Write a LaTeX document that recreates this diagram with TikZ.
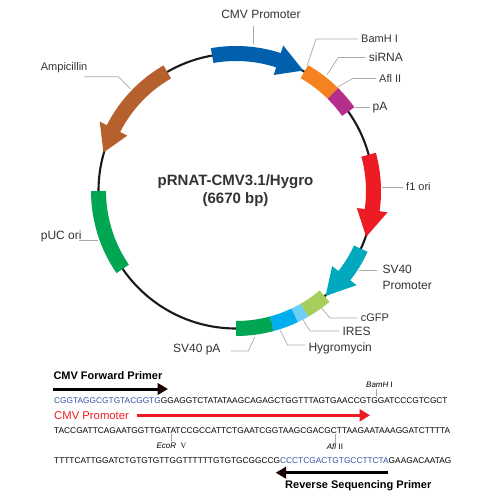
\documentclass[tikz,border=0pt]{standalone}
\usepackage{fontspec}
\setmainfont{Liberation Sans}
\newfontfamily\serifv{Liberation Serif}
\usetikzlibrary{arrows.meta}
\definecolor{txt}{HTML}{333333}
\definecolor{ring}{HTML}{1A1A1A}
\definecolor{leadc}{HTML}{AAAAAA}
\definecolor{cmvblue}{HTML}{0060AE}
\definecolor{orng}{HTML}{F58220}
\definecolor{magen}{HTML}{B52E8C}
\definecolor{redd}{HTML}{ED1C24}
\definecolor{teal2}{HTML}{00A9BD}
\definecolor{lgreen}{HTML}{A6CE5B}
\definecolor{lblue}{HTML}{6DCFF6}
\definecolor{hblue}{HTML}{00AEEF}
\definecolor{grn}{HTML}{00A651}
\definecolor{brwn}{HTML}{B5602D}
\definecolor{seqblue}{HTML}{3953A4}
\newcommand{\fs}[1]{\fontsize{#1}{#1}\selectfont}
% band from angle #1 to #2
\newcommand{\bandseg}[3]{\fill[#3] (#1:130pt) arc[start angle=#1,end angle=#2,radius=130pt] -- (#2:145pt) arc[start angle=#2,end angle=#1,radius=145pt] -- cycle;}
% arrow band from #1 to shaft end #2, tip at #3
\newcommand{\arrowseg}[4]{\fill[#4] (#1:130pt) arc[start angle=#1,end angle=#2,radius=130pt] -- (#2:122pt) -- (#3:138pt) -- (#2:153pt) -- (#2:145pt) arc[start angle=#2,end angle=#1,radius=145pt] -- cycle;}
\tikzset{
  lab/.style={anchor=west,inner sep=3pt,text=txt},
  leader/.style={draw=leadc,line width=0.7pt},
  seqline/.style={anchor=west,inner sep=0pt,text=black,font=\fs{8.33}},
  site/.style={inner sep=1pt,text=black,font=\fs{8}},
  primer/.style={anchor=west,inner sep=0pt,text=black,font=\bfseries\fs{11}},
  blackarrow/.style={draw=black,line width=3pt,-{Triangle[length=10.5pt,width=11.5pt,color=black!90!red]}},
  redarrow/.style={draw=redd,line width=2.6pt,-{Triangle[length=10.5pt,width=12pt]}}
}
\begin{document}
\begin{tikzpicture}[x=1pt,y=-1pt]
\useasboundingbox (0,0) rectangle (500,500);
\fill[white] (0,0) rectangle (500,500);

\begin{scope}[shift={(236,191)}]
\draw[ring,line width=2.1pt] (0,0) circle[radius=137.5pt];
\arrowseg{100}{72}{60.8}{cmvblue}
\bandseg{60.2}{45.2}{orng}
\bandseg{45.2}{35.3}{magen}
\arrowseg{15.3}{-8}{-19.4}{redd}
\arrowseg{-24.8}{-38}{-49.5}{teal2}
\bandseg{-49.9}{-60.2}{lgreen}
\bandseg{-60.2}{-64.8}{lblue}
\bandseg{-64.8}{-75}{hblue}
\bandseg{-75}{-90}{grn}
\bandseg{180}{214.5}{grn}
\arrowseg{120}{153}{163.8}{brwn}
\end{scope}

\node[font=\bfseries\fs{15},text=txt,align=center,inner sep=0pt] (title) at (235.5,191) {pRNAT-CMV3.1/Hygro\\[3pt](6670 bp)};

% map labels
\node[text=txt,inner sep=2pt,font=\fs{12}] (lCMV) at (261,14) {CMV Promoter};
\node[lab,font=\fs{11}] (lBam) at (358,39) {BamH I};
\node[lab,font=\fs{12}] (lsi) at (365.7,57.5) {siRNA};
\node[lab,font=\fs{11}] (lAfl) at (376,78.5) {Afl II};
\node[lab,font=\fs{12}] (lpA) at (369.5,107.5) {pA};
\node[lab,font=\fs{11}] (lf1) at (403,187) {f1 ori};
\node[lab,font=\fs{12},align=left] (lSV) at (379.3,277.2) {SV40\\[3.5pt]Promoter};
\node[lab,font=\fs{11}] (lcG) at (357.7,318) {cGFP};
\node[lab,font=\fs{12}] (lIR) at (339.3,331) {IRES};
\node[lab,font=\fs{12}] (lHy) at (305.3,348) {Hygromycin};
\node[anchor=east,inner sep=3pt,text=txt,font=\fs{12}] (lpa2) at (223.7,350) {SV40 pA};
\node[anchor=west,inner sep=0pt,text=txt,font=\fs{11}] (lAm) at (40.7,68) {Ampicillin};
\node[anchor=west,inner sep=0pt,text=txt,font=\fs{12}] (lpU) at (40.7,236) {pUC ori};

\coordinate (cCMVa) at (253.5,26);
\coordinate (cCMVb) at (253.5,44);
\coordinate (eBam) at (316,39);    \coordinate (tBam) at (307.3,65);
\coordinate (eSi) at (338.3,57.5); \coordinate (tSi) at (326.7,75);
\coordinate (eAf) at (352.7,78.5); \coordinate (tAf) at (338.3,86.7);
\coordinate (tPa) at (355,107.5);
\coordinate (tF1) at (381.7,187);
\coordinate (aSV) at (376.7,270);  \coordinate (tSV) at (359,270);
\coordinate (eCg) at (330,318);    \coordinate (tCg) at (321.7,308.3);
\coordinate (eIr) at (310,331);    \coordinate (tIr) at (302.7,319.3);
\coordinate (aHy) at (305,345);    \coordinate (eHy) at (287.7,345); \coordinate (tHy) at (280,330);
\coordinate (ePa) at (248.3,351);  \coordinate (tPa2) at (255,336.7); \coordinate (aPa) at (230.7,351);
\coordinate (aAm) at (84.3,76.7);  \coordinate (eAm) at (118.3,76.7); \coordinate (tAm) at (130.7,89);
\coordinate (aPu) at (79,240.7);   \coordinate (tPu) at (98.3,240.7);

\draw[leader] (cCMVa) -- (cCMVb);
\draw[leader] (lBam.west) -- (eBam) -- (tBam);
\draw[leader] (lsi.west) -- (eSi) -- (tSi);
\draw[leader] (lAfl.west) -- (eAf) -- (tAf);
\draw[leader] (lpA.west) -- (tPa);
\draw[leader] (lf1.west) -- (tF1);
\draw[leader] (aSV) -- (tSV);
\draw[leader] (lcG.west) -- (eCg) -- (tCg);
\draw[leader] (lIR.west) -- (eIr) -- (tIr);
\draw[leader] (aHy) -- (eHy) -- (tHy);
\draw[leader] (aPa) -- (ePa) -- (tPa2);
\draw[leader] (aAm) -- (eAm) -- (tAm);
\draw[leader] (aPu) -- (tPu);

% sequence panel
\node[primer] (fwd) at (53.3,376) {CMV Forward Primer};
\coordinate (fwdA) at (53.3,389); \coordinate (fwdB) at (168,389);
\draw[blackarrow] (fwdA) -- (fwdB);

\node[seqline] (s1) at (54,401) {\textcolor{seqblue}{CGGTAGGCGTGTACGGTG}GGAGGTCTATATAAGCAGAGCTGGTTTAGTGAACCGTGGATCCCGTCGCT};
\node[anchor=west,inner sep=0pt,text=redd,font=\fs{11.3}] (pCMV) at (54,415.3) {CMV Promoter};
\coordinate (redA) at (136.7,415.3); \coordinate (redB) at (370,415.3);
\draw[redarrow] (redA) -- (redB);
\node[seqline] (s2) at (54,431) {TACCGATTCAGAATGGTTGATATCCGCCATTCTGAATCGGTAAGCGACGCTTAAGAATAAAGGATCTTTTA};
\node[seqline] (s3) at (54,460.7) {TTTTCATTGGATCTGTGTGTTGGTTTTTTGTGTGCGGCCG\textcolor{seqblue}{CCCTCGACTGTGCCTTCTA}GAAGACAATAG};
\node[primer] (rev) at (285,486) {Reverse Sequencing Primer};
\coordinate (revA) at (388.3,472.7); \coordinate (revB) at (275.7,472.7);
\draw[blackarrow] (revA) -- (revB);

\node[site] (bam) at (379.5,385) {\textit{BamH} I};
\node[site] (eco) at (171.5,445.7) {\textit{EcoR} \ {\serifv V}};
\node[site] (afl) at (335,446.7) {\textit{Afl} II};
\coordinate (bamT) at (376.7,396);
\coordinate (ecoT) at (171,434);
\coordinate (aflT) at (335.7,434);
\draw[leader] (bam.south -| bamT) -- (bamT);
\draw[leader] (eco.north -| ecoT) -- (ecoT);
\draw[leader] (afl.north -| aflT) -- (aflT);
\end{tikzpicture}
\end{document}
